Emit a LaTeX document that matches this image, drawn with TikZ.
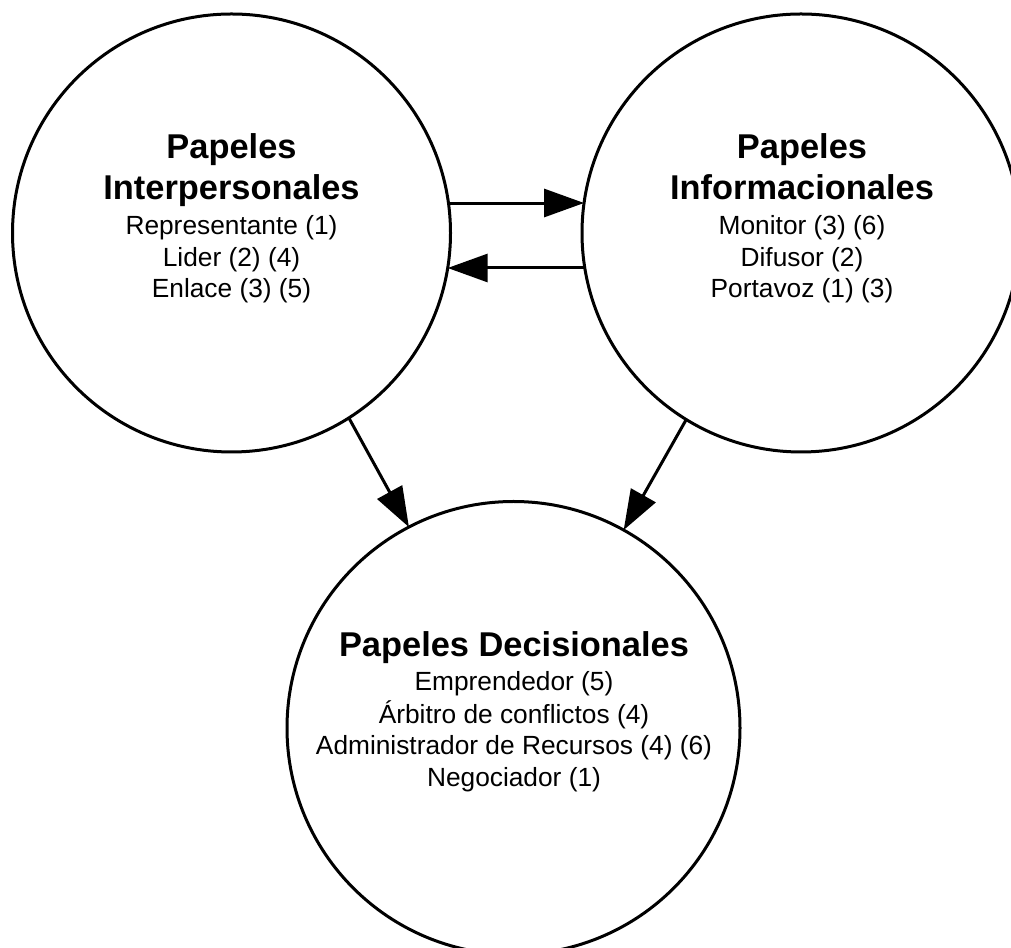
\documentclass[tikz,border=0pt]{standalone}
\usepackage{fontspec}
\setmainfont{Liberation Sans}
\usetikzlibrary{arrows.meta,calc}
% centred stack of lines whose baseline is that of its first line
\newcommand{\rolelines}[1]{\begin{tabular}[t]{@{}c@{}}#1\end{tabular}}
\begin{document}
\begin{tikzpicture}[x=1pt,y=1pt,
  role/.style={circle,draw=black,line width=3pt,minimum size=438pt,inner sep=0pt,outer sep=0pt},
  bigrole/.style={role,minimum size=453pt},
  heading/.style={anchor=base,inner sep=0pt,font=\fontsize{34.4}{41}\selectfont\bfseries},
  items/.style={anchor=base,inner sep=0pt,font=\fontsize{26.3}{31.5}\selectfont},
  flow/.style={line width=3pt,-{Triangle[length=40pt,width=28pt]}}]
\useasboundingbox (0,0) rectangle (1011,947);
\clip (0,0) rectangle (1011,947);

% the three groups of roles (radii 219 and 226.5)
\node[role] (inter) at (231.5,714) {};
\node[role] (info) at (801,714) {};
\node[bigrole] (dec) at (513.5,219) {};

% texts inside the circles
\node[heading] (inter-h) at (231.5,788) {\rolelines{Papeles\\Interpersonales}};
\node[items] (inter-l) at (231.5,712) {\rolelines{Representante (1)\\Lider (2) (4)\\Enlace (3) (5)}};

\node[heading] (info-h) at (802,788) {\rolelines{Papeles\\Informacionales}};
\node[items] (info-l) at (802,712) {\rolelines{Monitor (3) (6)\\Difusor (2)\\Portavoz (1) (3)}};

\node[heading] (dec-h) at (514,290) {Papeles Decisionales};
\node[items] (dec-l) at (514,256) {\rolelines{Emprendedor (5)\\Árbitro de conflictos (4)\\Administrador de Recursos (4) (6)\\Negociador (1)}};

% connectors, from rim to rim
\draw[flow] ($(inter)+(7.87:219)$) -- ($(info)+(172.13:219)$);
\draw[flow] ($(info)+(189.2:219)$) -- ($(inter)+(-9.2:219)$);
\draw[flow] ($(inter)+(-57.6:219)$) -- ($(dec)+(117.5:226.5)$);
\draw[flow] ($(info)+(-121.6:219)$) -- ($(dec)+(60.9:226.5)$);
\end{tikzpicture}
\end{document}
